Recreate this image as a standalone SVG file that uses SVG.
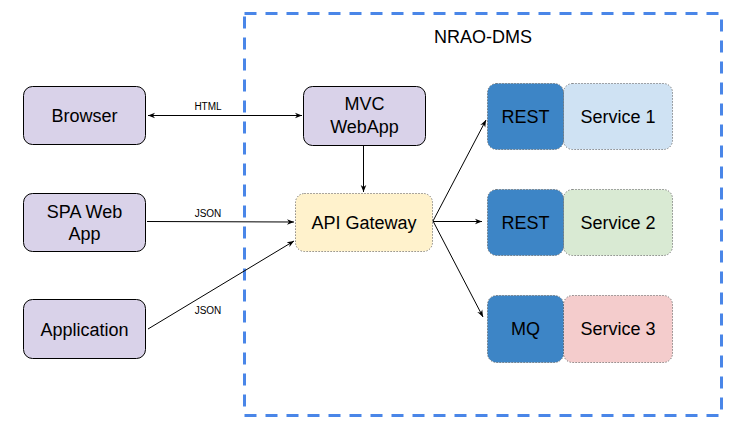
<svg xmlns="http://www.w3.org/2000/svg" width="740" height="434" viewBox="0 0 740 434">
<defs>
<marker id="ah" viewBox="0 0 10 10" refX="10" refY="5" markerWidth="7" markerHeight="7" orient="auto-start-reverse" markerUnits="userSpaceOnUse">
<path d="M0,1 L10,5 L0,9 L3,5 Z" fill="#000"/>
</marker>
<style>
.t{font-family:"Liberation Sans",Arial,sans-serif;font-size:18px;fill:#000;text-anchor:middle}
.s{font-family:"Liberation Sans",Arial,sans-serif;font-size:10px;fill:#000;text-anchor:middle}
.client{fill:#d9d2e9;stroke:#000;stroke-width:1}
.dot{stroke:#555;stroke-width:1;stroke-dasharray:1 2}
.c{stroke:#000;stroke-width:1;fill:none;marker-end:url(#ah)}
</style>
</defs>
<rect width="740" height="434" fill="#fff"/>
<g id="nrao-dms">
<rect x="244.5" y="13.5" width="477" height="402" fill="none" stroke="#4a86e8" stroke-width="3" stroke-dasharray="12 9"/>
<text class="t" x="483" y="43">NRAO-DMS</text>
</g>
<g id="browser"><rect class="client" x="23.5" y="86.5" width="122" height="58" rx="9"/><text class="t" x="84.5" y="122">Browser</text></g>
<g id="spa"><rect class="client" x="23.5" y="193.5" width="122" height="58" rx="9"/><text class="t" x="84.5" y="218">SPA Web</text><text class="t" x="84.5" y="240">App</text></g>
<g id="application"><rect class="client" x="23.5" y="299.5" width="122" height="59" rx="9"/><text class="t" x="84.5" y="336">Application</text></g>
<g id="mvc"><rect class="client" x="303.5" y="86.5" width="122" height="59" rx="9"/><text class="t" x="364.5" y="110">MVC</text><text class="t" x="364.5" y="133">WebApp</text></g>
<g id="api-gateway"><rect class="dot" fill="#fff2cc" x="295.5" y="193.5" width="137" height="58" rx="9"/><text class="t" x="364" y="229">API Gateway</text></g>
<g id="service1">
<rect class="dot" fill="#cfe2f3" x="563.5" y="83.5" width="109" height="66" rx="9"/>
<rect class="dot" fill="#3d85c6" x="487.5" y="83.5" width="76" height="66" rx="9"/>
<text class="t" x="525.5" y="123">REST</text><text class="t" x="618" y="123">Service 1</text>
</g>
<g id="service2">
<rect class="dot" fill="#d9ead3" x="563.5" y="189.5" width="109" height="66" rx="9"/>
<rect class="dot" fill="#3d85c6" x="487.5" y="189.5" width="76" height="66" rx="9"/>
<text class="t" x="525.5" y="229">REST</text><text class="t" x="618" y="229">Service 2</text>
</g>
<g id="service3">
<rect class="dot" fill="#f4cccc" x="563.5" y="295.5" width="109" height="67" rx="9"/>
<rect class="dot" fill="#3d85c6" x="487.5" y="295.5" width="76" height="67" rx="9"/>
<text class="t" x="525.5" y="335">MQ</text><text class="t" x="618" y="335">Service 3</text>
</g>
<g id="connectors">
<line class="c" x1="148" y1="115.5" x2="302" y2="115.5" marker-start="url(#ah)"/>
<text class="s" x="208" y="110">HTML</text>
<line class="c" x1="363.5" y1="146" x2="363.5" y2="192"/>
<line class="c" x1="147" y1="221.5" x2="294" y2="222"/>
<text class="s" x="208" y="217">JSON</text>
<line class="c" x1="148" y1="329" x2="294" y2="241"/>
<text class="s" x="208" y="314">JSON</text>
<line class="c" x1="433" y1="221" x2="486" y2="120"/>
<line class="c" x1="433" y1="221.5" x2="482" y2="221.5"/>
<line class="c" x1="433" y1="221" x2="483" y2="317"/>
</g>
</svg>
